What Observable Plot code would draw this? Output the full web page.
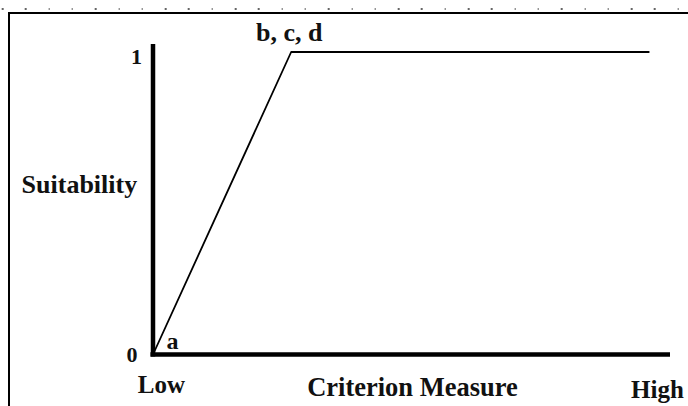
<!DOCTYPE html>
<html>
<head>
<meta charset="utf-8">
<script src="https://cdn.jsdelivr.net/npm/d3@7"></script>
<script src="https://cdn.jsdelivr.net/npm/@observablehq/plot@0.6"></script>
<style>
  html, body { margin: 0; padding: 0; background: #fff; overflow: hidden; }
  #wrap { position: relative; width: 688px; height: 406px; }
  #dots { position: absolute; left: 0; top: 8px; width: 688px; height: 2px;
    background: repeating-linear-gradient(to right, #666 0 1.5px, transparent 1.5px 23.3px);
    background-position: 1.7px 0; }
  #frame { position: absolute; left: 8px; top: 11.5px; width: 800px; height: 500px;
    border-left: 2.5px solid #000; border-top: 2px solid #000; pointer-events: none; }
  svg { position: absolute; left: 0; top: 0; }
  svg text { font-family: "Liberation Serif", "Times New Roman", serif !important; font-weight: bold; }
</style>
</head>
<body>
<div id="wrap"><div id="dots"></div><div id="frame"></div></div>
<script>
// Membership function: criterion measure -> suitability
const criterion = [0, 2.67, 9.58];
const suitability = [0, 1, 1];

// Point labels
const pointLabels = ["a", "b, c, d"];
const pointLabelX = [0, 2.67];
const pointLabelY = [0, 1];

// Y ticks
const yTickValues = [0, 1];
const yTickLabels = ["0", "1"];

// X end labels
const xEndValues = [0, 10];
const xEndLabels = ["Low", "High"];

const xTitle = "Criterion Measure";
const yTitle = "Suitability";

const xDomain = [0, 10];
const yDomain = [0, 1];
const yAxisTop = 1.025;

const line = criterion.map((c, i) => ({x: c, y: suitability[i]}));
const font = "Liberation Serif";
const ink = "#111";

const plot = Plot.plot({
  width: 688,
  height: 406,
  margin: 0,
  style: {background: "transparent", overflow: "visible"},
  x: {domain: xDomain, range: [152.5, 670], axis: null},
  y: {domain: yDomain, range: [354, 51.5], axis: null},
  marks: [
    Plot.ruleX([xDomain[0]], {y1: -0.008, y2: yAxisTop, stroke: "#000", strokeWidth: 4.5}),
    Plot.ruleY([yDomain[0]], {x1: -0.04, x2: xDomain[1], stroke: "#000", strokeWidth: 4.5}),
    Plot.line(line, {x: "x", y: "y", stroke: "#000", strokeWidth: 1.8}),
    // y tick labels
    Plot.text([yTickValues[1]], {x: () => 0, y: d => d, text: () => yTickLabels[1], textAnchor: "end", lineAnchor: "bottom", dx: -11, dy: 11.8, fontSize: 22, fontWeight: "bold", fontFamily: font, fill: ink}),
    Plot.text([yTickValues[0]], {x: () => 0, y: d => d, text: () => yTickLabels[0], textAnchor: "end", lineAnchor: "bottom", dx: -15.5, dy: 7.7, fontSize: 22, fontWeight: "bold", fontFamily: font, fill: ink}),
    // point labels
    Plot.text([0], {x: () => pointLabelX[0], y: () => pointLabelY[0], text: () => pointLabels[0], textAnchor: "start", lineAnchor: "bottom", dx: 13.5, dy: -5.7, fontSize: 24, fontWeight: "bold", fontFamily: font, fill: ink}),
    Plot.text([1], {x: () => pointLabelX[1], y: () => pointLabelY[1], text: () => pointLabels[1], textAnchor: "middle", lineAnchor: "bottom", dx: -2, dy: -10.8, fontSize: 26, fontWeight: "bold", fontFamily: font, fill: ink}),
    // y title
    Plot.text([0.5], {x: () => 0, y: d => d, text: () => yTitle, textAnchor: "end", lineAnchor: "bottom", dx: -15.8, dy: -10.5, fontSize: 26, fontWeight: "bold", fontFamily: font, fill: ink}),
    // x end labels
    Plot.text([0], {x: () => xEndValues[0], y: () => 0, text: () => xEndLabels[0], textAnchor: "start", lineAnchor: "bottom", dx: -15.2, dy: 38.7, fontSize: 25, fontWeight: "bold", fontFamily: font, fill: ink}),
    Plot.text([1], {x: () => xEndValues[1], y: () => 0, text: () => xEndLabels[1], textAnchor: "end", lineAnchor: "bottom", dx: 13.3, dy: 43.7, fontSize: 25, fontWeight: "bold", fontFamily: font, fill: ink}),
    // x title
    Plot.text([5], {x: d => d, y: () => 0, text: () => xTitle, textAnchor: "middle", lineAnchor: "bottom", dx: 0.75, dy: 41, fontSize: 26.5, fontWeight: "bold", fontFamily: font, fill: ink})
  ]
});
document.getElementById("wrap").prepend(plot);
</script>
</body>
</html>
